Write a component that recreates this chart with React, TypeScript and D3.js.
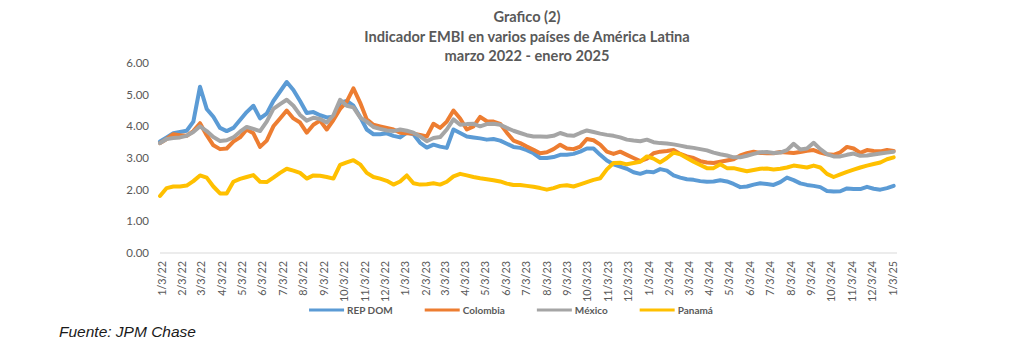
import React, { useEffect, useRef } from 'react';
import * as d3 from 'd3';

const seriesNames = ['REP DOM', 'Colombia', 'México', 'Panamá'];
const seriesColors = ['#5B9BD5', '#ED7D31', '#A5A5A5', '#FFC000'];

// readings every 10 days, starting 31 Dec 2021
const firstDate = '2021-12-31';
const stepDays = 10;

const repDom = [
  3.52, 3.65, 3.78, 3.82, 3.86, 4.15, 5.25, 4.55, 4.3, 3.95,
  3.85, 3.95, 4.2, 4.45, 4.65, 4.25, 4.4, 4.8, 5.1, 5.4,
  5.15, 4.8, 4.42, 4.45, 4.35, 4.28, 4.3, 4.75, 4.8, 4.65,
  4.3, 3.9, 3.75, 3.75, 3.78, 3.7, 3.65, 3.8, 3.75, 3.48,
  3.33, 3.42, 3.36, 3.32, 3.9, 3.79, 3.68, 3.65, 3.62, 3.58,
  3.6, 3.55, 3.45, 3.35, 3.32, 3.25, 3.15, 3.0, 3.0, 3.03,
  3.1, 3.1, 3.13, 3.2, 3.3, 3.3, 3.1, 2.92, 2.8, 2.73,
  2.66, 2.55, 2.5, 2.57, 2.55, 2.65, 2.6, 2.45, 2.38, 2.33,
  2.31, 2.27, 2.25, 2.26, 2.3, 2.26, 2.18, 2.08, 2.1, 2.16,
  2.2, 2.18, 2.15, 2.24, 2.38, 2.3, 2.2, 2.15, 2.12, 2.08,
  1.96, 1.94, 1.95, 2.04, 2.02, 2.02, 2.09, 2.03, 2.0, 2.05,
  2.12,
];

const colombia = [
  3.47, 3.6, 3.75, 3.72, 3.7, 3.85, 4.1, 3.72, 3.4, 3.28,
  3.3, 3.52, 3.65, 3.9, 3.78, 3.35, 3.55, 4.0, 4.25, 4.5,
  4.25, 4.12, 3.8, 4.05, 4.18, 3.9, 4.2, 4.55, 4.78, 5.2,
  4.75, 4.22, 4.05, 4.0, 3.95, 3.9, 3.8, 3.78, 3.77, 3.73,
  3.68, 4.08, 3.95, 4.15, 4.5, 4.25, 3.9, 4.0, 4.3, 4.16,
  4.15, 4.08, 3.8, 3.55, 3.47, 3.36, 3.26, 3.15, 3.18, 3.28,
  3.42, 3.3, 3.28, 3.36, 3.6, 3.56, 3.42, 3.2, 3.13, 3.2,
  3.1, 3.0, 2.9, 2.98, 3.15, 3.2, 3.22, 3.25, 3.13, 3.05,
  3.0, 2.9, 2.86, 2.84, 2.88, 2.92, 2.96, 3.08, 3.15, 3.2,
  3.16, 3.15, 3.15, 3.19, 3.17, 3.16, 3.19, 3.23, 3.25, 3.17,
  3.12, 3.1, 3.18, 3.35, 3.3, 3.16, 3.25, 3.22, 3.21, 3.25,
  3.22,
];

const mexico = [
  3.47, 3.6, 3.63, 3.65, 3.7, 3.82, 4.0, 3.85, 3.66, 3.54,
  3.56, 3.65, 3.83, 3.98, 3.92, 3.85, 4.15, 4.55, 4.7, 4.84,
  4.65, 4.36, 4.18, 4.27, 4.23, 4.12, 4.35, 4.84, 4.65, 4.6,
  4.28, 4.15, 3.98, 3.92, 3.87, 3.85, 3.9, 3.86, 3.8, 3.68,
  3.53, 3.63, 3.66, 3.9, 4.22, 4.05, 4.07, 4.08, 4.0, 4.07,
  4.08, 4.05, 3.95, 3.86, 3.79, 3.72, 3.68, 3.68, 3.67, 3.7,
  3.79, 3.72, 3.7, 3.79, 3.87, 3.82, 3.77, 3.73, 3.7, 3.65,
  3.58, 3.55, 3.53, 3.58, 3.5, 3.47, 3.46, 3.43, 3.39, 3.35,
  3.32, 3.28, 3.24, 3.17, 3.12, 3.08, 3.02, 3.02, 3.07, 3.13,
  3.18, 3.19, 3.16, 3.17, 3.25, 3.45, 3.27, 3.3, 3.48, 3.28,
  3.12, 3.05, 3.05, 3.1, 3.14, 3.07, 3.08, 3.11, 3.14, 3.17,
  3.2,
];

const panama = [
  1.8, 2.05, 2.1, 2.1, 2.13, 2.27, 2.45, 2.38, 2.1, 1.88,
  1.88, 2.25, 2.34, 2.4, 2.46, 2.25, 2.24, 2.38, 2.53, 2.66,
  2.6, 2.53, 2.35, 2.45, 2.44, 2.4, 2.35, 2.78, 2.86, 2.93,
  2.8, 2.53, 2.4, 2.35, 2.28, 2.16, 2.26, 2.45, 2.2, 2.16,
  2.17, 2.2, 2.16, 2.25, 2.42, 2.5, 2.45, 2.4, 2.36, 2.33,
  2.3, 2.26, 2.19, 2.15, 2.15, 2.12, 2.09, 2.05, 2.0, 2.05,
  2.12, 2.14, 2.1, 2.17, 2.24, 2.31, 2.36, 2.64, 2.84, 2.85,
  2.8, 2.84, 2.88, 3.05, 2.98, 2.86, 3.0, 3.17, 3.12, 3.0,
  2.88, 2.78, 2.68, 2.68, 2.8, 2.68, 2.68, 2.63, 2.58, 2.62,
  2.66, 2.67, 2.64, 2.66, 2.7, 2.76, 2.73, 2.7, 2.76, 2.7,
  2.5, 2.4, 2.48, 2.56, 2.63, 2.7, 2.76, 2.81, 2.86, 2.96,
  3.02,
];

const xTickLabels = [
  '1/3/22', '2/3/22', '3/3/22', '4/3/22', '5/3/22', '6/3/22', '7/3/22', '8/3/22', '9/3/22',
  '10/3/22', '11/3/22', '12/3/22', '1/3/23', '2/3/23', '3/3/23', '4/3/23', '5/3/23', '6/3/23',
  '7/3/23', '8/3/23', '9/3/23', '10/3/23', '11/3/23', '12/3/23', '1/3/24', '2/3/24', '3/3/24',
  '4/3/24', '5/3/24', '6/3/24', '7/3/24', '8/3/24', '9/3/24', '10/3/24', '11/3/24', '12/3/24',
  '1/3/25',
];
const yTicks = [0, 1, 2, 3, 4, 5, 6];

const titleLines = [
  'Grafico (2)',
  'Indicador EMBI en varios países de América Latina',
  'marzo 2022 - enero 2025',
];
const sourceNote = 'Fuente: JPM Chase';

const W = 1024;
const H = 361;
const textColor = '#595959';
const font = 'Lato, "Open Sans", sans-serif';

const App = () => {
  const ref = useRef(null);

  useEffect(() => {
    const svg = d3.select(ref.current);
    svg.selectAll('*').remove();

    const parse = d3.timeParse('%m/%d/%y');
    const start = d3.timeParse('%Y-%m-%d')(firstDate);
    const dates = repDom.map((_, i) => d3.timeDay.offset(start, i * stepDays));
    const tickDates = xTickLabels.map(l => parse(l));

    // axis runs from first reading to a few days past the last label
    const axisEnd = d3.timeDay.offset(tickDates[tickDates.length - 1], 6);

    const x = d3.scaleTime()
      .domain([tickDates[0], tickDates[tickDates.length - 1]])
      .range([162, 893]);
    const y = d3.scaleLinear().domain([0, 6]).range([253, 63]);

    // title
    svg.append('g')
      .selectAll('text')
      .data(titleLines)
      .enter().append('text')
      .attr('x', 527)
      .attr('y', (d, i) => 22 + i * 19.5)
      .attr('text-anchor', 'middle')
      .style('font-family', font)
      .style('font-weight', 700)
      .style('font-size', '14.6px')
      .style('fill', textColor)
      .text(d => d);

    // y labels
    svg.append('g')
      .selectAll('text')
      .data(yTicks)
      .enter().append('text')
      .attr('x', 149)
      .attr('y', d => y(d))
      .attr('dy', '0.35em')
      .attr('text-anchor', 'end')
      .style('font-family', font)
      .style('font-size', '11.5px')
      .style('fill', textColor)
      .text(d => d3.format('.2f')(d));

    // x axis line
    svg.append('line')
      .attr('x1', x(start))
      .attr('x2', x(axisEnd))
      .attr('y1', y(0))
      .attr('y2', y(0))
      .attr('stroke', '#D9D9D9')
      .attr('stroke-width', 1);

    // x labels
    svg.append('g')
      .selectAll('text')
      .data(xTickLabels)
      .enter().append('text')
      .attr('transform', (d, i) => `translate(${x(tickDates[i])},261) rotate(-90)`)
      .attr('dy', '0.35em')
      .attr('text-anchor', 'end')
      .style('font-family', font)
      .style('font-size', '10.8px')
      .style('fill', textColor)
      .text(d => d);

    // lines
    const allSeries = [repDom, colombia, mexico, panama];
    const line = d3.line()
      .x((d, i) => x(dates[i]))
      .y(d => y(d))
      .curve(d3.curveLinear);

    svg.append('g')
      .selectAll('path')
      .data(allSeries)
      .enter().append('path')
      .attr('d', d => line(d))
      .attr('fill', 'none')
      .attr('stroke', (d, i) => seriesColors[i])
      .attr('stroke-width', 4)
      .attr('stroke-linejoin', 'round')
      .attr('stroke-linecap', 'round');

    // legend
    const legend = svg.append('g');
    const items = legend.selectAll('g')
      .data(seriesNames)
      .enter().append('g');
    items.append('line')
      .attr('x1', 0).attr('x2', 35)
      .attr('y1', 310).attr('y2', 310)
      .attr('stroke', (d, i) => seriesColors[i])
      .attr('stroke-width', 3);
    items.append('text')
      .attr('x', 38)
      .attr('y', 310)
      .attr('dy', '0.35em')
      .style('font-family', font)
      .style('font-weight', 700)
      .style('font-size', '10px')
      .style('fill', textColor)
      .text(d => d);

    const widths = [];
    items.each(function () {
      widths.push(38 + d3.select(this).select('text').node().getComputedTextLength());
    });
    const gap = 32;
    const total = d3.sum(widths) + gap * (widths.length - 1);
    let cx = 511 - total / 2;
    items.attr('transform', (d, i) => {
      const t = `translate(${cx},0)`;
      cx += widths[i] + gap;
      return t;
    });

    // source
    svg.append('text')
      .attr('x', 59)
      .attr('y', 337)
      .style('font-family', '"Liberation Sans", Arial, sans-serif')
      .style('font-style', 'italic')
      .style('font-size', '15.5px')
      .style('fill', '#1a1a1a')
      .text(sourceNote);
  }, []);

  return (
    <svg
      ref={ref}
      width={W}
      height={H}
      style={{ position: 'absolute', left: 0, top: 0, background: '#fff' }}
    />
  );
};

export default App;
